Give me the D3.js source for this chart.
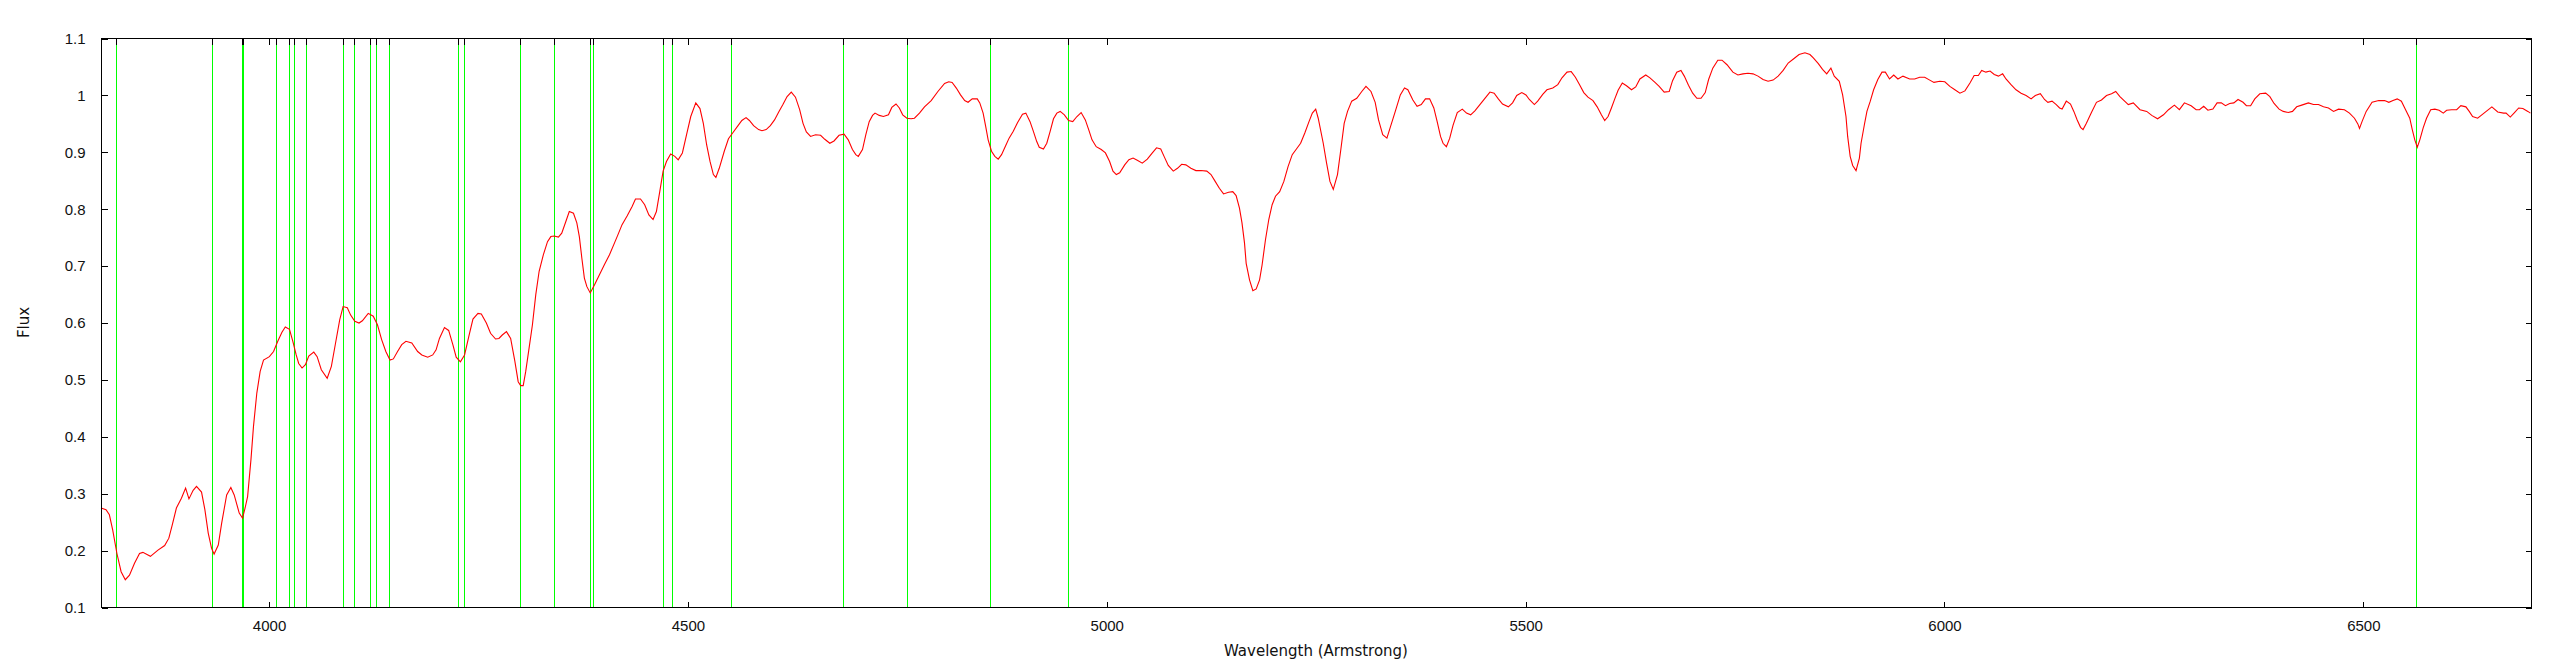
<!DOCTYPE html>
<html>
<head>
<meta charset="utf-8">
<title>Flux vs Wavelength</title>
<script src="https://cdn.jsdelivr.net/npm/d3@7/dist/d3.min.js"></script>
<style>
    body { margin: 0; background: #fff; }
    svg { display: block; font-family: "DejaVu Sans", sans-serif; }
    .tick text { font-size: 15px; fill: #111; }
    .label { font-size: 15px; fill: #111; }
</style>
</head>
<body>
<svg id="chart" width="2560" height="668"></svg>
<script>
// wavelength samples (Angstrom)
const wavelength = [
    3800, 3806, 3810, 3814, 3819, 3824, 3829, 3834, 3840, 3846, 3850, 3859, 3868, 3876, 3881, 3885,
    3890, 3896, 3901, 3905, 3910, 3914, 3920, 3924, 3928, 3932, 3935, 3940, 3944, 3950, 3955, 3959,
    3965, 3969, 3972, 3975, 3979, 3982, 3986, 3990, 3994, 4001, 4006, 4011, 4016, 4020, 4025, 4029,
    4033, 4036, 4040, 4044, 4048, 4054, 4058, 4063, 4070, 4075, 4080, 4085, 4089, 4094, 4098, 4103,
    4108, 4112, 4119, 4125, 4130, 4135, 4140, 4145, 4149, 4154, 4159, 4164, 4171, 4178, 4183, 4190,
    4196, 4200, 4204, 4210, 4215, 4220, 4224, 4229, 4234, 4239, 4244, 4250, 4254, 4260, 4265, 4271,
    4275, 4279, 4284, 4289, 4294, 4298, 4301, 4304, 4307, 4311, 4315, 4319, 4323, 4328, 4333, 4337,
    4341, 4346, 4350, 4355, 4359, 4364, 4368, 4371, 4374, 4377, 4380, 4384, 4389, 4395, 4401, 4407,
    4413, 4417, 4422, 4428, 4434, 4438, 4444, 4449, 4454, 4459, 4463, 4467, 4471, 4475, 4480, 4485,
    4489, 4494, 4499, 4504, 4510, 4515, 4519, 4523, 4527, 4531, 4534, 4538, 4544, 4549, 4554, 4560,
    4565, 4570, 4574, 4579, 4585, 4589, 4594, 4599, 4604, 4609, 4614, 4619, 4624, 4629, 4634, 4638,
    4642, 4647, 4653, 4659, 4664, 4670, 4675, 4681, 4687, 4692, 4697, 4701, 4704, 4709, 4713, 4717,
    4721, 4724, 4729, 4734, 4740, 4744, 4749, 4753, 4757, 4762, 4767, 4771, 4777, 4783, 4791, 4799,
    4807, 4812, 4816, 4821, 4826, 4831, 4835, 4840, 4846, 4849, 4853, 4856, 4859, 4863, 4867, 4871,
    4875, 4880, 4884, 4889, 4894, 4900, 4904, 4909, 4913, 4917, 4920, 4925, 4929, 4933, 4937, 4941,
    4945, 4950, 4955, 4960, 4965, 4970, 4975, 4979, 4983, 4988, 4994, 4999, 5004, 5008, 5012, 5016,
    5022, 5027, 5032, 5037, 5043, 5049, 5055, 5060, 5065, 5069, 5074, 5080, 5085, 5090, 5095, 5101,
    5107, 5113, 5120, 5125, 5130, 5135, 5140, 5146, 5151, 5155, 5159, 5162, 5165, 5167, 5171, 5175,
    5179, 5183, 5186, 5190, 5194, 5198, 5202, 5207, 5212, 5217, 5222, 5227, 5232, 5237, 5242, 5246,
    5250, 5253, 5259, 5263, 5267, 5271, 5276, 5280, 5284, 5288, 5293, 5299, 5305, 5310, 5316, 5321,
    5325, 5330, 5335, 5339, 5345, 5351, 5356, 5360, 5366, 5371, 5376, 5381, 5386, 5391, 5395, 5399,
    5402, 5406, 5410, 5414, 5419, 5425, 5430, 5435, 5440, 5446, 5452, 5458, 5463, 5468, 5473, 5480,
    5485, 5490, 5496, 5501, 5505, 5511, 5515, 5521, 5526, 5533, 5539, 5544, 5550, 5555, 5560, 5565,
    5570, 5575, 5581, 5586, 5591, 5595, 5599, 5603, 5607, 5611, 5616, 5621, 5627, 5632, 5637, 5644,
    5649, 5655, 5660, 5666, 5672, 5676, 5681, 5686, 5690, 5695, 5700, 5705, 5710, 5715, 5719, 5724,
    5730, 5735, 5741, 5748, 5754, 5760, 5766, 5772, 5778, 5784, 5790, 5796, 5802, 5808, 5814, 5821,
    5827, 5834, 5840, 5844, 5850, 5855, 5860, 5865, 5869, 5875, 5879, 5883, 5885, 5888, 5891, 5895,
    5899, 5901, 5905, 5908, 5912, 5916, 5921, 5926, 5930, 5935, 5940, 5945, 5951, 5959, 5965, 5971,
    5977, 5983, 5988, 5995, 6001, 6007, 6013, 6019, 6025, 6031, 6036, 6041, 6045, 6050, 6055, 6060,
    6065, 6070, 6074, 6080, 6086, 6092, 6098, 6104, 6109, 6115, 6120, 6124, 6129, 6134, 6138, 6141,
    6146, 6151, 6155, 6159, 6163, 6166, 6170, 6176, 6182, 6188, 6194, 6200, 6205, 6210, 6215, 6220,
    6226, 6234, 6242, 6248, 6255, 6262, 6268, 6275, 6281, 6287, 6295, 6301, 6305, 6310, 6315, 6321,
    6326, 6331, 6336, 6341, 6346, 6351, 6357, 6361, 6366, 6371, 6377, 6384, 6389, 6394, 6400, 6405,
    6411, 6416, 6421, 6427, 6435, 6441, 6447, 6453, 6459, 6465, 6471, 6478, 6484, 6490, 6494, 6496,
    6499, 6504, 6511, 6519, 6526, 6531, 6536, 6541, 6546, 6551, 6556, 6559, 6562, 6565, 6568, 6572,
    6576, 6581, 6586, 6591, 6596, 6600, 6606, 6612, 6617, 6623, 6627, 6631, 6637, 6642, 6648, 6654,
    6661, 6668, 6671, 6676, 6681, 6686, 6691, 6697, 6700
];

// normalised flux at each wavelength above
const flux = [
    0.274, 0.271, 0.262, 0.235, 0.194, 0.162, 0.148, 0.156, 0.177, 0.194, 0.196, 0.189, 0.200, 0.208, 0.221, 0.244,
    0.274, 0.291, 0.309, 0.290, 0.305, 0.312, 0.302, 0.271, 0.230, 0.203, 0.193, 0.209, 0.247, 0.297, 0.310, 0.297,
    0.265, 0.256, 0.274, 0.294, 0.359, 0.417, 0.476, 0.514, 0.534, 0.540, 0.549, 0.567, 0.583, 0.592, 0.588, 0.567,
    0.543, 0.528, 0.520, 0.526, 0.541, 0.548, 0.540, 0.517, 0.502, 0.523, 0.564, 0.605, 0.628, 0.626, 0.613, 0.602,
    0.599, 0.603, 0.616, 0.611, 0.596, 0.570, 0.549, 0.534, 0.536, 0.549, 0.561, 0.567, 0.564, 0.549, 0.543, 0.539,
    0.543, 0.552, 0.572, 0.591, 0.586, 0.561, 0.539, 0.531, 0.543, 0.575, 0.606, 0.616, 0.615, 0.599, 0.581, 0.571,
    0.572, 0.578, 0.584, 0.572, 0.532, 0.496, 0.489, 0.489, 0.514, 0.555, 0.596, 0.649, 0.690, 0.719, 0.742, 0.751,
    0.752, 0.750, 0.757, 0.778, 0.795, 0.792, 0.775, 0.751, 0.713, 0.678, 0.663, 0.652, 0.666, 0.684, 0.702, 0.719,
    0.740, 0.754, 0.772, 0.787, 0.804, 0.817, 0.817, 0.807, 0.789, 0.781, 0.795, 0.830, 0.866, 0.883, 0.896, 0.892,
    0.886, 0.898, 0.930, 0.962, 0.986, 0.976, 0.950, 0.912, 0.883, 0.860, 0.855, 0.871, 0.901, 0.923, 0.933, 0.945,
    0.955, 0.960, 0.955, 0.946, 0.939, 0.937, 0.939, 0.946, 0.956, 0.970, 0.983, 0.997, 1.005, 0.996, 0.974, 0.950,
    0.935, 0.927, 0.930, 0.929, 0.922, 0.915, 0.919, 0.929, 0.931, 0.921, 0.904, 0.895, 0.892, 0.904, 0.930, 0.953,
    0.964, 0.968, 0.964, 0.962, 0.965, 0.978, 0.984, 0.977, 0.965, 0.959, 0.958, 0.959, 0.968, 0.979, 0.990, 1.006,
    1.020, 1.023, 1.022, 1.012, 1.000, 0.990, 0.987, 0.993, 0.993, 0.986, 0.968, 0.945, 0.921, 0.901, 0.892, 0.887,
    0.895, 0.911, 0.924, 0.936, 0.951, 0.966, 0.968, 0.953, 0.936, 0.918, 0.908, 0.905, 0.915, 0.936, 0.958, 0.968,
    0.971, 0.965, 0.955, 0.953, 0.962, 0.969, 0.956, 0.939, 0.921, 0.909, 0.904, 0.898, 0.883, 0.866, 0.860, 0.863,
    0.877, 0.886, 0.889, 0.885, 0.880, 0.887, 0.898, 0.907, 0.905, 0.892, 0.876, 0.866, 0.871, 0.878, 0.877, 0.871,
    0.867, 0.867, 0.866, 0.860, 0.848, 0.836, 0.826, 0.829, 0.830, 0.823, 0.801, 0.775, 0.740, 0.704, 0.675, 0.656,
    0.659, 0.675, 0.701, 0.745, 0.781, 0.807, 0.822, 0.830, 0.848, 0.874, 0.895, 0.905, 0.915, 0.933, 0.953, 0.968,
    0.975, 0.959, 0.915, 0.880, 0.848, 0.834, 0.860, 0.904, 0.950, 0.971, 0.989, 0.994, 1.006, 1.015, 1.006, 0.987,
    0.956, 0.930, 0.924, 0.943, 0.971, 1.000, 1.012, 1.009, 0.991, 0.980, 0.983, 0.993, 0.993, 0.977, 0.953, 0.927,
    0.915, 0.909, 0.924, 0.947, 0.969, 0.975, 0.968, 0.965, 0.972, 0.983, 0.994, 1.005, 1.003, 0.993, 0.984, 0.979,
    0.986, 0.999, 1.004, 1.000, 0.992, 0.983, 0.989, 1.001, 1.009, 1.012, 1.018, 1.030, 1.040, 1.041, 1.031, 1.018,
    1.004, 0.996, 0.990, 0.979, 0.965, 0.955, 0.962, 0.977, 0.993, 1.008, 1.021, 1.016, 1.009, 1.014, 1.028, 1.035,
    1.030, 1.022, 1.015, 1.005, 1.006, 1.025, 1.040, 1.043, 1.033, 1.017, 1.003, 0.994, 0.994, 1.004, 1.027, 1.047,
    1.061, 1.061, 1.053, 1.040, 1.035, 1.037, 1.038, 1.037, 1.033, 1.027, 1.024, 1.026, 1.033, 1.043, 1.056, 1.064,
    1.071, 1.074, 1.071, 1.065, 1.055, 1.045, 1.037, 1.047, 1.033, 1.024, 1.000, 0.962, 0.927, 0.892, 0.876, 0.867,
    0.889, 0.915, 0.948, 0.971, 0.989, 1.009, 1.027, 1.040, 1.040, 1.028, 1.035, 1.028, 1.033, 1.028, 1.028, 1.031,
    1.031, 1.026, 1.022, 1.024, 1.023, 1.015, 1.009, 1.003, 1.007, 1.021, 1.034, 1.034, 1.043, 1.040, 1.042, 1.036,
    1.033, 1.037, 1.028, 1.018, 1.009, 1.003, 0.999, 0.993, 0.999, 1.002, 0.992, 0.987, 0.989, 0.983, 0.977, 0.975,
    0.989, 0.984, 0.971, 0.956, 0.943, 0.939, 0.950, 0.969, 0.987, 0.991, 0.999, 1.002, 1.006, 0.997, 0.990, 0.983,
    0.986, 0.974, 0.971, 0.964, 0.958, 0.965, 0.974, 0.982, 0.974, 0.986, 0.981, 0.974, 0.974, 0.980, 0.973, 0.975,
    0.986, 0.986, 0.981, 0.985, 0.986, 0.992, 0.987, 0.981, 0.981, 0.993, 1.002, 1.003, 0.997, 0.985, 0.975, 0.971,
    0.969, 0.971, 0.979, 0.982, 0.986, 0.983, 0.983, 0.979, 0.977, 0.971, 0.975, 0.974, 0.968, 0.959, 0.949, 0.941,
    0.953, 0.971, 0.987, 0.990, 0.990, 0.987, 0.990, 0.993, 0.989, 0.974, 0.959, 0.939, 0.921, 0.908, 0.921, 0.942,
    0.959, 0.974, 0.975, 0.973, 0.968, 0.973, 0.974, 0.974, 0.981, 0.979, 0.971, 0.962, 0.959, 0.965, 0.972, 0.979,
    0.970, 0.968, 0.968, 0.961, 0.969, 0.977, 0.976, 0.971, 0.968
];

// marked spectral lines (green verticals)
const lineWavelengths = [
    3818.5, 3932, 3968, 3970, 4008.5, 4025, 4030, 4044.7, 4088.8, 4101.5, 4120.6, 4127.8, 4143.3,
    4226, 4233.3, 4299.7, 4340.3, 4383.8, 4386.9, 4470.4, 4481.2, 4551.6, 4685.4, 4761.8, 4860.9,
    4954, 6564
];

const xTicks = [4000, 4500, 5000, 5500, 6000, 6500];
const yTicks = [0.1, 0.2, 0.3, 0.4, 0.5, 0.6, 0.7, 0.8, 0.9, 1.0, 1.1];

const xLabel = "Wavelength (Armstrong)";
const yLabel = "Flux";

// plot area
const plotLeft = 101, plotRight = 2531, plotTop = 38, plotBottom = 607;
const tickLen = 6;

const svg = d3.select("#chart");

svg.append("rect")
    .attr("width", 2560)
    .attr("height", 668)
    .attr("fill", "#fff");

const x = d3.scaleLinear()
    .domain([3800, 6700])
    .range([plotLeft, plotRight - 0.6]);

const y = d3.scaleLinear()
    .domain([0.1, 1.1])
    .range([plotBottom, plotTop]);

// snap a coordinate to a pixel centre so 1px lines stay crisp
const px = v => Math.round(v) + 0.5;

// green line markers
const marks = svg.append("g");
marks.selectAll("line")
    .data(lineWavelengths)
    .enter()
    .append("line")
    .attr("x1", d => px(x(d)))
    .attr("x2", d => px(x(d)))
    .attr("y1", px(plotTop))
    .attr("y2", px(plotBottom))
    .attr("stroke", "#00ff00")
    .attr("stroke-width", 1)
    .attr("shape-rendering", "crispEdges");

// spectrum
const points = wavelength.map((w, i) => [w, flux[i]]);
const line = d3.line()
    .x(d => x(d[0]))
    .y(d => y(d[1]));

svg.append("path")
    .datum(points)
    .attr("d", line)
    .attr("fill", "none")
    .attr("stroke", "#ff0000")
    .attr("stroke-width", 1.1);

// axes, ticks point inward like gnuplot
const xAxis = d3.axisBottom(x)
    .tickValues(xTicks)
    .tickSizeInner(-tickLen)
    .tickSizeOuter(0)
    .tickPadding(13)
    .tickFormat(d3.format("d"));

const yAxis = d3.axisLeft(y)
    .tickValues(yTicks)
    .tickSizeInner(-tickLen)
    .tickSizeOuter(0)
    .tickPadding(16)
    .tickFormat(d => String(+d.toFixed(1)));

const gx = svg.append("g")
    .attr("transform", `translate(0.5,${px(plotBottom)})`)
    .call(xAxis);

const gy = svg.append("g")
    .attr("transform", `translate(${px(plotLeft)},0.5)`)
    .call(yAxis);

// mirrored ticks on top and right, no labels
const gx2 = svg.append("g")
    .attr("transform", `translate(0.5,${px(plotTop)})`)
    .call(d3.axisTop(x).tickValues(xTicks).tickSizeInner(-tickLen).tickSizeOuter(0).tickFormat(""));

const gy2 = svg.append("g")
    .attr("transform", `translate(${px(plotRight)},0.5)`)
    .call(d3.axisRight(y).tickValues(yTicks).tickSizeInner(-tickLen).tickSizeOuter(0).tickFormat(""));

// black x2 ticks over every marked line
const gx3 = svg.append("g")
    .attr("transform", `translate(0,${px(plotTop)})`);
gx3.selectAll("line")
    .data(lineWavelengths)
    .enter()
    .append("line")
    .attr("x1", d => px(x(d)))
    .attr("x2", d => px(x(d)))
    .attr("y1", 0)
    .attr("y2", tickLen);

[gx, gy, gx2, gy2].forEach(g => {
    g.select(".domain").remove();
    g.selectAll(".tick line").attr("stroke", "#000");
});
gx3.selectAll("line").attr("stroke", "#000");
svg.selectAll(".tick line, g line").attr("shape-rendering", "crispEdges");

// border
svg.append("rect")
    .attr("x", px(plotLeft))
    .attr("y", px(plotTop))
    .attr("width", plotRight - plotLeft)
    .attr("height", plotBottom - plotTop)
    .attr("fill", "none")
    .attr("stroke", "#000")
    .attr("stroke-width", 1)
    .attr("shape-rendering", "crispEdges");

// axis titles
svg.append("text")
    .attr("class", "label")
    .attr("x", (plotLeft + plotRight) / 2)
    .attr("y", 656)
    .attr("text-anchor", "middle")
    .text(xLabel);

svg.append("text")
    .attr("class", "label")
    .attr("transform", `translate(29,${(plotTop + plotBottom) / 2}) rotate(-90)`)
    .attr("text-anchor", "middle")
    .text(yLabel);
</script>
</body>
</html>
